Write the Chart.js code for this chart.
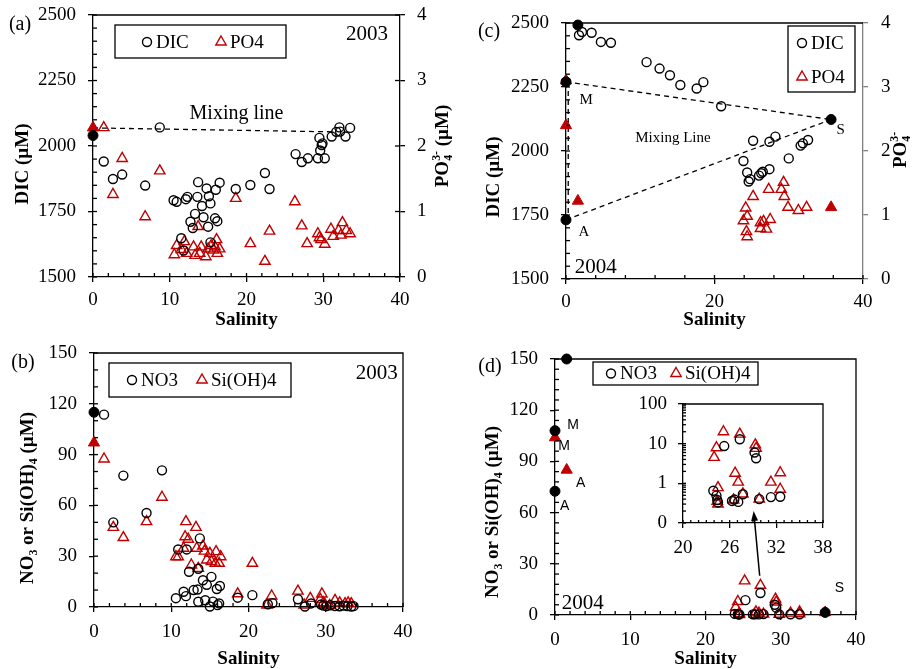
<!DOCTYPE html>
<html>
<head>
<meta charset="utf-8">
<script src="https://cdn.jsdelivr.net/npm/chart.js@4.4.1/dist/chart.umd.min.js"></script>
<style>
html, body { margin: 0; padding: 0; background: #fff; }
body { width: 912px; height: 669px; position: relative; overflow: hidden; }
canvas { position: absolute; }
</style>
</head>
<body>
<canvas id="chart-a" width="460" height="330" style="left:0;top:0"></canvas>
<canvas id="chart-c" width="452" height="330" style="left:460px;top:0"></canvas>
<canvas id="chart-b" width="460" height="339" style="left:0;top:330px"></canvas>
<canvas id="chart-d" width="452" height="339" style="left:460px;top:330px"></canvas>
<canvas id="chart-inset" width="230" height="175" style="left:620px;top:390px"></canvas>
<script>
// ---- 2003 : DIC / PO4 vs salinity (a)
const dic2003Sal = [1.4, 2.6, 3.8, 6.8, 8.7, 10.5, 10.9, 11.5, 11.8, 12.1, 12.3, 12.7, 13.0, 13.3, 13.6, 13.7, 14.2, 14.4, 14.8, 15.0, 15.1, 15.3, 15.3, 15.9, 16.0, 16.2, 16.5, 18.6, 20.5, 22.4, 23.0, 26.4, 27.2, 28.0, 29.3, 29.5, 29.6, 29.8, 29.9, 30.2, 31.1, 31.7, 32.1, 32.2, 32.9, 33.5];
const dic2003 = [1941, 1874, 1891, 1849, 2071, 1793, 1787, 1648, 1601, 1797, 1806, 1711, 1687, 1741, 1806, 1862, 1771, 1728, 1838, 1692, 1808, 1781, 1632, 1724, 1833, 1713, 1860, 1836, 1851, 1897, 1836, 1969, 1939, 1953, 1953, 2031, 1983, 2004, 2010, 1953, 2036, 2054, 2071, 2055, 2036, 2069];
const po4_2003Sal = [1.4, 2.6, 3.8, 6.8, 8.7, 10.6, 10.9, 11.5, 11.9, 12.2, 13.1, 13.3, 13.7, 13.9, 14.1, 14.7, 15.0, 15.4, 15.7, 15.9, 16.1, 16.2, 16.5, 18.6, 20.5, 22.4, 23.0, 26.3, 27.2, 27.9, 29.3, 29.5, 29.7, 30.2, 31.0, 31.3, 32.0, 32.3, 32.5, 33.0, 33.5];
const po4_2003 = [2.28, 1.26, 1.81, 0.92, 1.62, 0.34, 0.48, 0.42, 0.54, 0.36, 0.46, 0.33, 0.77, 0.36, 0.46, 0.31, 0.43, 0.48, 0.41, 0.46, 0.57, 0.36, 0.43, 1.20, 0.51, 0.24, 0.70, 1.15, 0.78, 0.51, 0.66, 0.60, 0.57, 0.50, 0.73, 0.62, 0.71, 0.64, 0.83, 0.71, 0.66];
const endDic2003Sal = [0], endDic2003 = [2040];
const endPo4_2003Sal = [0], endPo4_2003 = [2.28];
const mix2003Sal = [0, 31.3], mix2003Dic = [2069, 2054];

// ---- 2003 : NO3 / Si(OH)4 vs salinity (b)
const no3_2003Sal = [1.3, 2.5, 3.8, 6.8, 8.8, 10.6, 10.9, 11.6, 12.0, 11.9, 12.3, 12.9, 13.4, 13.5, 13.5, 13.7, 14.1, 14.4, 14.6, 15.0, 15.2, 15.4, 15.9, 16.0, 16.2, 16.3, 18.6, 20.5, 22.5, 23.1, 26.4, 27.3, 28.1, 29.4, 29.7, 30.1, 30.6, 31.2, 31.8, 32.3, 32.8, 33.3, 33.6];
const no3_2003 = [113.6, 50, 77.6, 55.5, 80.7, 5.2, 34, 9.0, 34, 6.4, 20.8, 10, 10.3, 3.1, 22.6, 40.5, 15.8, 4.0, 13.1, 0.3, 17.8, 3.2, 10.6, 1.1, 2.1, 12.4, 5.5, 7.0, 1.6, 2.3, 4.6, 0.3, 2.1, 1.5, 0.8, 0.5, 1.0, 0.6, 0.4, 0.8, 0.5, 0.3, 0.5];
const si2003Sal = [1.3, 2.5, 3.8, 6.8, 8.8, 10.6, 10.9, 11.6, 11.8, 11.9, 12.2, 12.6, 13.2, 13.3, 13.5, 14.1, 14.3, 14.6, 15.0, 15.2, 15.7, 15.8, 16.2, 16.4, 18.6, 20.5, 22.4, 23.0, 26.4, 27.2, 28.0, 29.3, 29.5, 29.7, 29.9, 30.5, 31.2, 31.8, 32.5, 32.9, 33.3];
const si2003 = [87.4, 47, 41, 50.4, 64.8, 29.7, 29.7, 34.7, 41.5, 50.4, 40, 24.8, 47, 34.7, 22.8, 36, 33, 27.8, 31.7, 26.8, 25.8, 32.7, 25.8, 29.7, 7.8, 25.8, 1.2, 6.5, 9.4, 1.2, 5.1, 4.5, 7.7, 2.5, 1.4, 1.0, 3.9, 2.4, 2.0, 2.4, 2.0];
const endNo3_2003Sal = [0], endNo3_2003 = [115];
const endSi2003Sal = [0], endSi2003 = [97];

// ---- 2004 : DIC / PO4 vs salinity (c)
const dic2004Sal = [1.75, 2.15, 3.45, 4.7, 6.05, 10.85, 12.6, 14.0, 15.4, 17.6, 18.5, 20.9, 23.9, 24.4, 24.6, 24.8, 25.2, 26.0, 26.3, 26.5, 27.4, 27.4, 28.2, 30.0, 31.6, 31.9, 32.6];
const dic2004 = [2452, 2465, 2462, 2426, 2423, 2347, 2322, 2296, 2258, 2244, 2269, 2175, 1961, 1916, 1881, 1890, 2040, 1904, 1913, 1919, 1929, 2036, 2056, 1971, 2021, 2030, 2043];
const po4_2004Sal = [23.9, 24.2, 24.3, 24.4, 24.4, 25.2, 26.2, 26.2, 26.6, 27.0, 27.3, 27.5, 29.0, 29.3, 29.4, 29.9, 31.3, 32.4];
const po4_2004 = [0.91, 1.11, 0.74, 0.98, 0.66, 1.29, 0.88, 0.79, 0.90, 0.78, 1.40, 0.93, 1.40, 1.51, 1.29, 1.12, 1.07, 1.12];
const endDic2004Sal = [1.6, 0, 0, 35.7], endDic2004 = [2492, 2270, 1731, 2123];
const endPo4_2004Sal = [0, 0, 1.6, 35.7], endPo4_2004 = [3.1, 2.4, 1.22, 1.12];
const mixMS_Sal = [0, 35.7], mixMS_Dic = [2270, 2123];
const mixAS_Sal = [0, 35.7], mixAS_Dic = [1731, 2123];
const mixMA_Sal = [0.3, 0.3], mixMA_Dic = [2270, 1731];

// ---- 2004 : NO3 / Si(OH)4 vs salinity (d and inset)
const no3_2004Sal = [23.9, 24.3, 24.4, 24.5, 25.3, 26.3, 26.6, 27.1, 27.3, 27.7, 29.2, 29.4, 29.8, 31.3, 32.5];
const no3_2004 = [0.65, 0.49, 0.38, 0.33, 8.7, 0.36, 0.39, 0.34, 12.9, 0.53, 6.0, 4.3, 0.40, 0.45, 0.46];
const si2004Sal = [24.0, 24.3, 24.4, 24.5, 24.5, 25.2, 26.5, 26.7, 27.1, 27.3, 27.7, 29.3, 29.4, 29.8, 31.3, 32.5, 32.5];
const si2004 = [4.5, 7.9, 0.35, 0.78, 0.30, 20, 0.38, 1.8, 1.07, 17.4, 0.54, 9.3, 7.6, 0.40, 1.07, 1.85, 0.71];
const endNo3_2004Sal = [1.55, 0, 0, 35.9], endNo3_2004 = [150, 108, 72.5, 1.5];
const endSi2004Sal = [0, 1.55, 35.9], endSi2004 = [104, 85, 1.5];

// ---- tick labels of the log inset
const insetYTicks = [0.1, 1, 10, 100];
const insetYLabels = ['0', '1', '10', '100'];

const SERIF = "'Liberation Serif', 'Times New Roman', serif";
const SANS = "'Liberation Sans', Arial, sans-serif";
const BLACK = '#000000';
const RED = '#c00000';
const GREY = '#808080';

const pts = (xs, ys) => xs.map((x, i) => ({ x, y: ys[i] }));

function openSet(label, xs, ys, style, color, axis) {
    return {
        label, data: pts(xs, ys), pointStyle: style, clip: false,
        pointRadius: style === 'triangle' ? 6 : 4.5,
        borderColor: color, backgroundColor: 'rgba(0,0,0,0)',
        borderWidth: 1.4, pointBorderWidth: 1.4, yAxisID: axis || 'y'
    };
}
function filledSet(label, xs, ys, style, color, axis) {
    return {
        label, data: pts(xs, ys), pointStyle: style, clip: false,
        pointRadius: style === 'triangle' ? 6.5 : 5,
        borderColor: color, backgroundColor: color,
        borderWidth: 1, pointBorderWidth: 1, yAxisID: axis || 'y'
    };
}
function dashSet(xs, ys) {
    return {
        label: 'mixing', data: pts(xs, ys), showLine: true, clip: false,
        borderColor: BLACK, borderWidth: 1.3, borderDash: [5, 4],
        pointRadius: 0, yAxisID: 'y'
    };
}

function xAxis(min, max, step, height, pad, title) {
    return {
        type: 'linear', position: 'bottom', min, max,
        ticks: { stepSize: step, color: BLACK, font: { family: SERIF, size: 19 }, padding: pad, maxRotation: 0, autoSkip: false, callback: v => String(v) },
        grid: { drawOnChartArea: false, tickLength: 5, color: BLACK, lineWidth: 1.3 },
        border: { display: true, color: BLACK, width: 1.3 },
        title: { display: title, text: 'Salinity', color: BLACK, font: { family: SERIF, size: 19, weight: 'bold', lineHeight: 1 }, padding: { top: 0, bottom: 0 } },
        afterFit: s => { s.height = height; s.paddingLeft = 0; s.paddingRight = 0; }
    };
}
function yAxis(pos, min, max, step, width, pad, color) {
    return {
        type: 'linear', position: pos, min, max,
        ticks: { stepSize: step, color: BLACK, font: { family: SERIF, size: 19 }, padding: pad, autoSkip: false, callback: v => String(v) },
        grid: { drawOnChartArea: false, tickLength: 5, color: color, lineWidth: 1.3 },
        border: { display: true, color: color, width: 1.3 },
        afterFit: s => { s.width = width; s.paddingTop = 0; s.paddingBottom = 0; }
    };
}

function drawRich(ctx, parts, x, y, rot, size, bold) {
    const font = s => (bold ? 'bold ' : '') + s + 'px ' + SERIF;
    const small = size * 0.62;
    let w = 0;
    const widths = parts.map(p => {
        let pw;
        if (p.ss) {
            ctx.font = font(small);
            pw = Math.max(ctx.measureText(p.ss[0]).width, ctx.measureText(p.ss[1]).width);
        } else {
            ctx.font = font(p.sub || p.sup ? small : size);
            pw = ctx.measureText(p.t).width;
        }
        w += pw;
        return pw;
    });
    ctx.save();
    ctx.translate(x, y);
    ctx.rotate(rot);
    ctx.fillStyle = BLACK;
    ctx.textAlign = 'left';
    ctx.textBaseline = 'alphabetic';
    const base = size * 0.33;
    let cx = -w / 2;
    parts.forEach((p, i) => {
        if (p.ss) {
            ctx.font = font(small);
            ctx.fillText(p.ss[0], cx, base + size * 0.22);
            ctx.fillText(p.ss[1], cx, base - size * 0.45);
        } else if (p.sub) {
            ctx.font = font(small);
            ctx.fillText(p.t, cx, base + size * 0.22);
        } else if (p.sup) {
            ctx.font = font(small);
            ctx.fillText(p.t, cx, base - size * 0.45);
        } else {
            ctx.font = font(size);
            ctx.fillText(p.t, cx, base);
        }
        cx += widths[i];
    });
    ctx.restore();
}

function marker(ctx, style, x, y, r, color, fill) {
    ctx.beginPath();
    if (style === 'triangle') {
        for (let k = 0; k < 3; k++) {
            const a = k * 2 * Math.PI / 3;
            const px = x + Math.sin(a) * r, py = y - Math.cos(a) * r;
            k === 0 ? ctx.moveTo(px, py) : ctx.lineTo(px, py);
        }
        ctx.closePath();
    } else {
        ctx.arc(x, y, r, 0, Math.PI * 2);
    }
    ctx.strokeStyle = color;
    ctx.lineWidth = 1.4;
    if (fill) { ctx.fillStyle = fill; ctx.fill(); }
    ctx.stroke();
}

function stepValues(min, max, step) {
    const n = Math.round((max - min) / step);
    const out = [];
    for (let i = 0; i <= n; i++) out.push(min + i * step);
    return out;
}
function logValues(min, max) {
    const out = [];
    for (let e = Math.round(Math.log10(min)); e < Math.round(Math.log10(max)); e++) {
        for (let k = 1; k < 10; k++) out.push(k * Math.pow(10, e));
    }
    out.push(max);
    return out;
}

const decor = {
    id: 'decor',
    afterDraw(chart, args, o) {
        const ctx = chart.ctx, a = chart.chartArea;
        ctx.save();
        ctx.lineWidth = 1.3;
        ctx.strokeStyle = BLACK;
        // frame
        ctx.beginPath();
        ctx.moveTo(a.left, a.top); ctx.lineTo(a.right, a.top);
        if (o.rightLine) ctx.lineTo(a.right, a.bottom);
        ctx.stroke();
        // inward ticks
        (o.inner || []).forEach(t => {
            const sc = chart.scales[t.id];
            const vals = t.log ? logValues(sc.min, sc.max) : stepValues(sc.min, sc.max, t.step);
            ctx.strokeStyle = t.color || BLACK;
            vals.forEach(v => {
                const p = sc.getPixelForValue(v);
                ctx.beginPath();
                if (sc.isHorizontal()) { ctx.moveTo(p, a.bottom); ctx.lineTo(p, a.bottom - t.len); }
                else if (sc.position === 'left') { ctx.moveTo(a.left, p); ctx.lineTo(a.left + t.len, p); }
                else { ctx.moveTo(a.right, p); ctx.lineTo(a.right - t.len, p); }
                ctx.stroke();
            });
        });
        // arrow (data coordinates)
        if (o.arrow) {
            const sx = chart.scales.x, sy = chart.scales.y;
            const x1 = sx.getPixelForValue(o.arrow.from[0]), y1 = sy.getPixelForValue(o.arrow.from[1]);
            const x2 = sx.getPixelForValue(o.arrow.to[0]), y2 = sy.getPixelForValue(o.arrow.to[1]);
            const ang = Math.atan2(y2 - y1, x2 - x1);
            ctx.strokeStyle = BLACK;
            ctx.lineWidth = 1.5;
            ctx.beginPath(); ctx.moveTo(x1, y1); ctx.lineTo(x2 - 6 * Math.cos(ang), y2 - 6 * Math.sin(ang)); ctx.stroke();
            ctx.fillStyle = BLACK;
            ctx.beginPath();
            ctx.moveTo(x2, y2);
            ctx.lineTo(x2 - 10 * Math.cos(ang) + 3.5 * Math.sin(ang), y2 - 10 * Math.sin(ang) - 3.5 * Math.cos(ang));
            ctx.lineTo(x2 - 10 * Math.cos(ang) - 3.5 * Math.sin(ang), y2 - 10 * Math.sin(ang) + 3.5 * Math.cos(ang));
            ctx.closePath(); ctx.fill();
        }
        // texts
        (o.texts || []).forEach(t => {
            let x = t.px, y = t.py;
            if (t.ax) {
                x = chart.scales.x.getPixelForValue(t.x);
                y = chart.scales[t.ax].getPixelForValue(t.y);
            }
            ctx.font = (t.bold ? 'bold ' : '') + t.size + 'px ' + (t.fam || SERIF);
            ctx.fillStyle = BLACK;
            ctx.textAlign = 'center';
            ctx.textBaseline = 'middle';
            ctx.fillText(t.t, x, y);
        });
        // rich axis titles
        (o.titles || []).forEach(t => drawRich(ctx, t.parts, t.x, t.y, -Math.PI / 2, 19, true));
        // legend
        if (o.legend) {
            const [x1, y1, x2, y2] = o.legend.rect;
            ctx.strokeStyle = BLACK;
            ctx.lineWidth = 1.3;
            ctx.strokeRect(x1, y1, x2 - x1, y2 - y1);
            o.legend.items.forEach(it => {
                const ds = chart.data.datasets[it.ds];
                marker(ctx, ds.pointStyle, it.x, it.y, ds.pointRadius, ds.borderColor, null);
                ctx.font = '19px ' + SERIF;
                ctx.fillStyle = BLACK;
                ctx.textAlign = 'left';
                ctx.textBaseline = 'middle';
                ctx.fillText(ds.label, it.x + 9, it.y + 1);
            });
        }
        ctx.restore();
    }
};

function makeChart(id, datasets, scales, padding, deco) {
    return new Chart(document.getElementById(id), {
        type: 'scatter',
        data: { datasets },
        options: {
            responsive: false, animation: false, events: [],
            layout: { padding },
            scales,
            plugins: { legend: { display: false }, tooltip: { enabled: false }, decor: deco }
        },
        plugins: [decor]
    });
}

const PO4_TITLE = [{ t: 'PO' }, { ss: ['4', '3-'] }, { t: ' (\u00b5M)' }];
const NUT_TITLE = [{ t: 'NO' }, { t: '3', sub: true }, { t: ' or Si(OH)' }, { t: '4', sub: true }, { t: ' (\u00b5M)' }];

// (a)
makeChart('chart-a', [
    filledSet('DIC end', endDic2003Sal, endDic2003, 'circle', BLACK),
    filledSet('PO4 end', endPo4_2003Sal, endPo4_2003, 'triangle', RED, 'y1'),
    openSet('DIC', dic2003Sal, dic2003, 'circle', BLACK),
    openSet('PO4', po4_2003Sal, po4_2003, 'triangle', RED, 'y1'),
    dashSet(mix2003Sal, mix2003Dic)
], {
    x: xAxis(0, 40, 10, 53, 7, true),
    y: yAxis('left', 1500, 2500, 250, 93, 12, BLACK),
    y1: yAxis('right', 0, 4, 1, 60, 12, BLACK)
}, { top: 15, left: 0, right: 0, bottom: 0 }, {
    inner: [{ id: 'x', step: 2, len: 4 }, { id: 'y', step: 50, len: 4 }, { id: 'y1', step: 1, len: 5 }],
    texts: [
        { t: '(a)', px: 20, py: 25, size: 20 },
        { t: '2003', x: 35.7, y: 2424, ax: 'y', size: 21 },
        { t: 'Mixing line', x: 18.7, y: 2122, ax: 'y', size: 20 }
    ],
    titles: [{ parts: [{ t: 'DIC (\u00b5M)' }], x: 22, y: 164 }, { parts: PO4_TITLE, x: 442, y: 146 }],
    legend: { rect: [115, 25, 286, 58], items: [{ ds: 2, x: 147, y: 42 }, { ds: 3, x: 221, y: 42 }] }
});

// (c)
makeChart('chart-c', [
    filledSet('DIC end', endDic2004Sal, endDic2004, 'circle', BLACK),
    filledSet('PO4 end', endPo4_2004Sal, endPo4_2004, 'triangle', RED, 'y1'),
    openSet('DIC', dic2004Sal, dic2004, 'circle', BLACK),
    openSet('PO4', po4_2004Sal, po4_2004, 'triangle', RED, 'y1'),
    dashSet(mixMS_Sal, mixMS_Dic),
    dashSet(mixAS_Sal, mixAS_Dic),
    dashSet(mixMA_Sal, mixMA_Dic)
], {
    x: xAxis(0, 40, 20, 51, 7, true),
    y: yAxis('left', 1500, 2500, 250, 106, 12, BLACK),
    y1: yAxis('right', 0, 4, 1, 49, 13, GREY)
}, { top: 23, left: 0, right: 0, bottom: 0 }, {
    inner: [{ id: 'x', step: 4, len: 4 }, { id: 'y', step: 50, len: 4 }],
    texts: [
        { t: '(c)', px: 29, py: 32, size: 20 },
        { t: 'M', x: 2.7, y: 2199, ax: 'y', size: 15 },
        { t: 'A', x: 2.4, y: 1684, ax: 'y', size: 15 },
        { t: 'S', x: 37.0, y: 2082, ax: 'y', size: 15 },
        { t: 'Mixing Line', x: 14.4, y: 2051, ax: 'y', size: 15 },
        { t: '2004', x: 4.0, y: 1545, ax: 'y', size: 21 }
    ],
    titles: [{ parts: [{ t: 'DIC (\u00b5M)' }], x: 33, y: 177 }, { parts: [{ t: 'PO' }, { ss: ['4', '3-'] }], x: 440, y: 150 }],
    legend: { rect: [328, 26, 395, 92], items: [{ ds: 2, x: 342, y: 43 }, { ds: 3, x: 342, y: 77 }] }
});

// (b)
makeChart('chart-b', [
    filledSet('NO3 end', endNo3_2003Sal, endNo3_2003, 'circle', BLACK),
    filledSet('Si end', endSi2003Sal, endSi2003, 'triangle', RED),
    openSet('NO3', no3_2003Sal, no3_2003, 'circle', BLACK),
    openSet('Si(OH)4', si2003Sal, si2003, 'triangle', RED)
], {
    x: xAxis(0, 40, 10, 62, 9, true),
    y: yAxis('left', 0, 150, 30, 94, 12, BLACK)
}, { top: 23, left: 0, right: 57, bottom: 0 }, {
    rightLine: true,
    inner: [{ id: 'x', step: 2, len: 4 }, { id: 'y', step: 10, len: 4 }],
    texts: [
        { t: '(b)', px: 23, py: 33, size: 20 },
        { t: '2003', x: 36.6, y: 138, ax: 'y', size: 21 }
    ],
    titles: [{ parts: NUT_TITLE, x: 27, y: 168 }],
    legend: { rect: [109, 33, 291, 67], items: [{ ds: 2, x: 132, y: 50 }, { ds: 3, x: 202, y: 50 }] }
});

// (d)
makeChart('chart-d', [
    filledSet('NO3 end', endNo3_2004Sal, endNo3_2004, 'circle', BLACK),
    filledSet('Si end', endSi2004Sal, endSi2004, 'triangle', RED),
    openSet('NO3', no3_2004Sal, no3_2004, 'circle', BLACK),
    openSet('Si(OH)4', si2004Sal, si2004, 'triangle', RED)
], {
    x: xAxis(0, 40, 10, 54, 9, true),
    y: yAxis('left', 0, 150, 30, 95, 12, BLACK)
}, { top: 29, left: 0, right: 56, bottom: 0 }, {
    rightLine: true,
    inner: [{ id: 'x', step: 2, len: 4 }, { id: 'y', step: 6, len: 4 }],
    arrow: { from: [27.2, 23], to: [26.4, 61] },
    texts: [
        { t: '(d)', px: 30, py: 37, size: 20 },
        { t: 'M', x: 2.4, y: 111, ax: 'y', size: 14, fam: SANS },
        { t: 'M', x: 1.2, y: 99, ax: 'y', size: 14, fam: SANS },
        { t: 'A', x: 3.4, y: 77, ax: 'y', size: 14, fam: SANS },
        { t: 'A', x: 1.3, y: 64, ax: 'y', size: 14, fam: SANS },
        { t: 'S', x: 37.8, y: 16, ax: 'y', size: 14, fam: SANS },
        { t: '2004', x: 3.7, y: 6.5, ax: 'y', size: 21 }
    ],
    titles: [{ parts: NUT_TITLE, x: 32, y: 182 }],
    legend: { rect: [133, 32, 298, 55], items: [{ ds: 2, x: 151, y: 43.5 }, { ds: 3, x: 216, y: 43.5 }] }
});

// inset (log scale)
const insetY = yAxis('left', 0.1, 100, 1, 63, 11, BLACK);
insetY.type = 'logarithmic';
delete insetY.ticks.stepSize;
insetY.afterBuildTicks = s => { s.ticks = insetYTicks.map(v => ({ value: v })); };
insetY.ticks.callback = (v, i) => insetYLabels[i];
makeChart('chart-inset', [
    openSet('NO3', no3_2004Sal, no3_2004, 'circle', BLACK),
    openSet('Si(OH)4', si2004Sal, si2004, 'triangle', RED)
], {
    x: xAxis(20, 38, 6, 42, 9, false),
    y: insetY
}, { top: 14, left: 0, right: 27, bottom: 0 }, {
    rightLine: true,
    inner: [{ id: 'x', step: 1, len: 3 }, { id: 'y', log: true, len: 3 }]
});
</script>
</body>
</html>
